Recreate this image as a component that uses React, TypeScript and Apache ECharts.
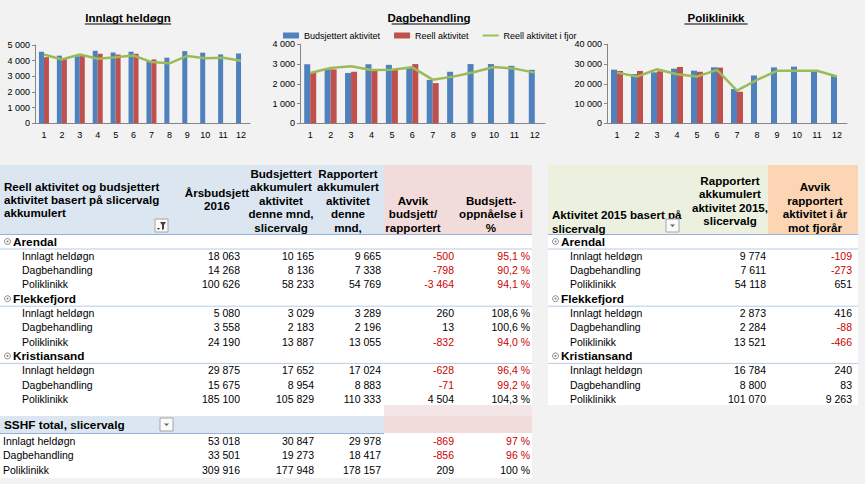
import React, { useEffect, useRef } from "react";
import * as echarts from "echarts";

// ---------- chart data ----------
const months = ["1", "2", "3", "4", "5", "6", "7", "8", "9", "10", "11", "12"];
const legendNames = ["Budsjettert aktivitet", "Reell aktivitet", "Reell aktivitet i fjor"];
const chartTitles = ["Innlagt heldøgn", "Dagbehandling", "Poliklinikk"];

const ihBudget = [4570, 4320, 4280, 4630, 4520, 4570, 3960, 4190, 4610, 4510, 4400, 4460];
const ihActual = [4220, 4120, 4290, 4440, 4390, 4440, 4080, null, null, null, null, null];
const ihLastYear = [4390, 4070, 4390, 4120, 4220, 4330, 3910, 3830, 4300, 4150, 4190, 4000];

const dbBudget = [2990, 2740, 2550, 2990, 2960, 2840, 2200, 2610, 3000, 3000, 2910, 2710];
const dbActual = [2575, 2727, 2610, 2744, 2727, 3000, 2035, null, null, null, null, null];
const dbLastYear = [2550, 2800, 2885, 2700, 2715, 2835, 2210, 2363, 2582, 2852, 2768, 2565];

const pkBudget = [27150, 24950, 25800, 27650, 26650, 28350, 17350, 24200, 28300, 28700, 26700, 24100];
const pkActual = [26500, 26500, 26350, 28500, 26100, 28200, 16000, null, null, null, null, null];
const pkLastYear = [25650, 23650, 27350, 24850, 23650, 27050, 16500, 22000, 26600, 26600, 26600, 23700];

const yMax = [5000, 4000, 40000];
const yInterval = [1000, 1000, 10000];

// ---------- table data ----------
const regions = ["Arendal", "Flekkefjord", "Kristiansand"];
const activities = ["Innlagt heldøgn", "Dagbehandling", "Poliklinikk"];
const leftHeaders = [
  ["Reell aktivitet og budsjettert", "aktivitet basert på slicervalg", "akkumulert"],
  ["Årsbudsjett", "2016"],
  ["Budsjettert", "akkumulert", "aktivitet", "denne mnd,", "slicervalg"],
  ["Rapportert", "akkumulert", "aktivitet", "denne", "mnd,"],
  ["Avvik", "budsjett/", "rapportert"],
  ["Budsjett-", "oppnåelse i", "%"],
];
const rightHeaders = [
  ["Aktivitet 2015 basert på", "slicervalg"],
  ["Rapportert", "akkumulert", "aktivitet 2015,", "slicervalg"],
  ["Avvik", "rapportert", "aktivitet i år", "mot fjorår"],
];
const aarsbudsjett = [[18063, 14268, 100626], [5080, 3558, 24190], [29875, 15675, 185100]];
const budsjettAkk = [[10165, 8136, 58233], [3029, 2183, 13887], [17652, 8954, 105829]];
const rapportertAkk = [[9665, 7338, 54769], [3289, 2196, 13055], [17024, 8883, 110333]];
const avvikBudsjett = [[-500, -798, -3464], [260, 13, -832], [-628, -71, 4504]];
const oppnaelse = [[95.1, 90.2, 94.1], [108.6, 100.6, 94.0], [96.4, 99.2, 104.3]];
const totalLabel = "SSHF total, slicervalg";
const totAars = [53018, 33501, 309916];
const totBudAkk = [30847, 19273, 177948];
const totRapAkk = [29978, 18417, 178157];
const totAvvik = [-869, -856, 209];
const totPct = [97, 96, 100];
const rapportert2015 = [[9774, 7611, 54118], [2873, 2284, 13521], [16784, 8800, 101070]];
const avvikFjor = [[-109, -273, 651], [416, -88, -466], [240, 83, 9263]];

// ---------- helpers ----------
const FONT = '"Liberation Sans", Arial, sans-serif';
const RED = "#CC0000";
const fmt = (n: number) => {
  const s = Math.abs(n).toString().replace(/\B(?=(\d{3})+(?!\d))/g, " ");
  return (n < 0 ? "-" : "") + s;
};
const pct = (v: number, d: number) => v.toFixed(d).replace(".", ",") + " %";

function txt(x: number, y: number, text: string, opts: any = {}) {
  return {
    type: "text",
    z: 10,
    silent: true,
    style: {
      x,
      y,
      text,
      fill: opts.fill || "#000",
      font: `${opts.bold ? "bold " : ""}${opts.size || 10.5}px ${FONT}`,
      textAlign: opts.align || "left",
      textVerticalAlign: "middle",
    },
  };
}
function rect(x: number, y: number, w: number, h: number, fill: string, stroke?: string, z = 1) {
  return {
    type: "rect",
    z,
    silent: true,
    shape: { x, y, width: w, height: h },
    style: { fill, stroke: stroke || null, lineWidth: stroke ? 1 : 0 },
  };
}
function hline(x1: number, x2: number, y: number, color: string, z = 5) {
  return {
    type: "line",
    z,
    silent: true,
    shape: { x1, y1: y, x2, y2: y },
    style: { stroke: color, lineWidth: 1 },
  };
}
function collapseIcon(cx: number, cy: number) {
  return [
    { type: "circle", z: 11, silent: true, shape: { cx, cy, r: 3 }, style: { fill: "#fff", stroke: "#8C8C8C", lineWidth: 1 } },
    { type: "circle", z: 12, silent: true, shape: { cx, cy, r: 1 }, style: { fill: "#8C8C8C" } },
  ];
}
function dropIcon(x: number, y: number, filter: boolean) {
  const els: any[] = [rect(x, y, 13, 13, "#FAFAFA", "#A6A6A6", 11)];
  if (filter) {
    els.push({
      type: "polygon", z: 12, silent: true,
      shape: { points: [[x + 5, y + 3], [x + 11, y + 3], [x + 9, y + 6], [x + 9, y + 10], [x + 7, y + 11], [x + 7, y + 6]] },
      style: { fill: "#404040" },
    });
    els.push({
      type: "polygon", z: 12, silent: true,
      shape: { points: [[x + 2, y + 9], [x + 5, y + 9], [x + 3.5, y + 11]] },
      style: { fill: "#404040" },
    });
  } else {
    els.push({
      type: "polygon", z: 12, silent: true,
      shape: { points: [[x + 4, y + 5.5], [x + 9, y + 5.5], [x + 6.5, y + 8]] },
      style: { fill: "#606060" },
    });
  }
  return els;
}

function buildGraphics() {
  const g: any[] = [];
  // chart titles with underline
  const titleX = [128, 429, 716];
  chartTitles.forEach((t, i) => {
    g.push(txt(titleX[i], 17.5, t, { bold: true, size: 11.5, align: "center" }));
    const w = t.length * 5.75;
    g.push(hline(titleX[i] - w / 2, titleX[i] + w / 2, 24, "#000"));
  });

  const HS = 11.6;
  // ---------- left table ----------
  const LX = 0, LW = 532, PINKX = 384;
  g.push(rect(LX, 165, PINKX, 69, "#DCE6F1"));
  g.push(rect(PINKX, 165, LW - PINKX, 69, "#F2DCDB"));
  g.push(rect(LX, 234, LW, 171, "#FFFFFF"));
  g.push(rect(LX, 405, PINKX, 11, "#FFFFFF"));
  g.push(rect(PINKX, 405, LW - PINKX, 11, "#F4E6E6"));
  g.push(rect(LX, 416, PINKX, 17, "#DCE6F1"));
  g.push(rect(PINKX, 416, LW - PINKX, 17, "#F2DCDB"));
  g.push(rect(LX, 433, LW, 45, "#FFFFFF"));
  g.push(hline(LX, LW, 234.5, "#95B3D7"));
  g.push(hline(LX, PINKX, 433.5, "#95B3D7"));

  // left headers
  leftHeaders[0].forEach((l, k) => g.push(txt(4, 186 + k * 13.3, l, { bold: true, size: HS })));
  const hCenters = [217, 281, 348, 413, 491];
  const hBottom = 227;
  leftHeaders.slice(1).forEach((lines, c) => {
    const n = lines.length;
    const start = c === 0 ? 192 : hBottom - (n - 1) * 13.5;
    lines.forEach((l, k) => g.push(txt(hCenters[c], start + k * 13.5, l, { bold: true, size: HS, align: "center" })));
  });
  g.push(...dropIcon(155, 219, true));

  // ---------- right table ----------
  const RX = 548, RW = 310, ORX = 768;
  g.push(rect(RX, 165, ORX - RX, 69, "#EBF1DE"));
  g.push(rect(ORX, 165, RX + RW - ORX, 69, "#FCD5B4"));
  g.push(rect(RX, 234, RW, 171, "#FFFFFF"));
  g.push(hline(RX, RX + RW, 234.5, "#95B3D7"));
  rightHeaders[0].forEach((l, k) => g.push(txt(552, 214 + k * 14, l, { bold: true, size: HS })));
  rightHeaders[1].forEach((l, k) => g.push(txt(730, 180 + k * 13.5, l, { bold: true, size: HS, align: "center" })));
  rightHeaders[2].forEach((l, k) => g.push(txt(815, 186.5 + k * 13.5, l, { bold: true, size: HS, align: "center" })));
  g.push(...dropIcon(666, 219, false));

  // body rows
  const leftCols = [240, 314, 381, 454, 530];
  const rightCols = [766, 852];
  const step = 14.3;
  regions.forEach((r, ri) => {
    const gy = 241.5 + ri * 4 * step;
    g.push(...collapseIcon(7.5, gy));
    g.push(txt(13, gy, r, { bold: true, size: 11.8 }));
    g.push(hline(LX, LW, gy + 7.5, "#B8CCE4"));
    g.push(...collapseIcon(555.5, gy));
    g.push(txt(561, gy, r, { bold: true, size: 11.8 }));
    g.push(hline(RX, RX + RW, gy + 7.5, "#B8CCE4"));
    activities.forEach((a, ai) => {
      const y = gy + (ai + 1) * step;
      g.push(txt(22, y, a));
      g.push(txt(leftCols[0], y, fmt(aarsbudsjett[ri][ai]), { align: "right" }));
      g.push(txt(leftCols[1], y, fmt(budsjettAkk[ri][ai]), { align: "right" }));
      g.push(txt(leftCols[2], y, fmt(rapportertAkk[ri][ai]), { align: "right" }));
      const av = avvikBudsjett[ri][ai];
      g.push(txt(leftCols[3], y, fmt(av), { align: "right", fill: av < 0 ? RED : "#000" }));
      const p = oppnaelse[ri][ai];
      g.push(txt(leftCols[4], y, pct(p, 1), { align: "right", fill: p < 100 ? RED : "#000" }));
      g.push(txt(570, y, a));
      g.push(txt(rightCols[0], y, fmt(rapportert2015[ri][ai]), { align: "right" }));
      const af = avvikFjor[ri][ai];
      g.push(txt(rightCols[1], y, fmt(af), { align: "right", fill: af < 0 ? RED : "#000" }));
    });
  });

  // totals
  g.push(txt(4, 424.5, totalLabel, { bold: true, size: 11.8 }));
  g.push(...dropIcon(160, 418, false));
  activities.forEach((a, ai) => {
    const y = 441 + ai * step;
    g.push(txt(3, y, a));
    g.push(txt(leftCols[0], y, fmt(totAars[ai]), { align: "right" }));
    g.push(txt(leftCols[1], y, fmt(totBudAkk[ai]), { align: "right" }));
    g.push(txt(leftCols[2], y, fmt(totRapAkk[ai]), { align: "right" }));
    const av = totAvvik[ai];
    g.push(txt(leftCols[3], y, fmt(av), { align: "right", fill: av < 0 ? RED : "#000" }));
    const p = totPct[ai];
    g.push(txt(leftCols[4], y, pct(p, 0), { align: "right", fill: p < 100 ? RED : "#000" }));
  });
  return g;
}

export default function App() {
  const ref = useRef<HTMLDivElement>(null);
  useEffect(() => {
    if (!ref.current) return;
    const chart = echarts.init(ref.current, null, { renderer: "svg" });
    const grids = [
      { left: 35, top: 45, width: 215, height: 78.3 },
      { left: 300, top: 44.3, width: 245, height: 79 },
      { left: 607, top: 44.3, width: 240, height: 79 },
    ];
    const axisColor = "#868686";
    const data = [
      [ihBudget, ihActual, ihLastYear],
      [dbBudget, dbActual, dbLastYear],
      [pkBudget, pkActual, pkLastYear],
    ];
    const barW = [5, 6, 6];
    const series: any[] = [];
    data.forEach((d, i) => {
      series.push({
        name: legendNames[0], type: "bar", xAxisIndex: i, yAxisIndex: i, data: d[0],
        barWidth: barW[i], barGap: "0%", itemStyle: { color: "#4F81BD" },
      });
      series.push({
        name: legendNames[1], type: "bar", xAxisIndex: i, yAxisIndex: i, data: d[1],
        barWidth: barW[i], barGap: "0%", itemStyle: { color: "#C0504D" },
      });
      series.push({
        name: legendNames[2], type: "line", xAxisIndex: i, yAxisIndex: i, data: d[2],
        symbol: "none", showSymbol: false, lineStyle: { color: "#9BBB59", width: 2.5 },
        itemStyle: { color: "#9BBB59" }, z: 5,
      });
    });
    chart.setOption({
      animation: false,
      backgroundColor: "#F2F2F2",
      textStyle: { fontFamily: FONT },
      legend: {
        left: 278, top: 26, itemWidth: 16, itemHeight: 6, itemGap: 14,
        textStyle: { fontSize: 9, color: "#000", fontFamily: FONT },
        data: [
          { name: legendNames[0], icon: "rect" },
          { name: legendNames[1], icon: "rect" },
          { name: legendNames[2], icon: "path://M0 0 H20 V2.4 H0 Z" },
        ],
      },
      grid: grids,
      xAxis: grids.map((_, i) => ({
        type: "category", gridIndex: i, data: months, boundaryGap: true,
        axisLine: { lineStyle: { color: axisColor } },
        axisTick: { length: 3, lineStyle: { color: axisColor } },
        axisLabel: { fontSize: 9, color: "#000", margin: 7, fontFamily: FONT },
      })),
      yAxis: grids.map((_, i) => ({
        type: "value", gridIndex: i, min: 0, max: yMax[i], interval: yInterval[i],
        axisLine: { show: true, lineStyle: { color: axisColor } },
        axisTick: { show: true, length: 3, lineStyle: { color: axisColor } },
        splitLine: { show: false },
        axisLabel: { fontSize: 9, color: "#000", margin: 5, fontFamily: FONT, formatter: (v: number) => fmt(v) },
      })),
      series,
      graphic: { elements: buildGraphics() },
    });
    return () => chart.dispose();
  }, []);
  return <div ref={ref} style={{ position: "fixed", left: 0, top: 0, width: 865, height: 484 }} />;
}
